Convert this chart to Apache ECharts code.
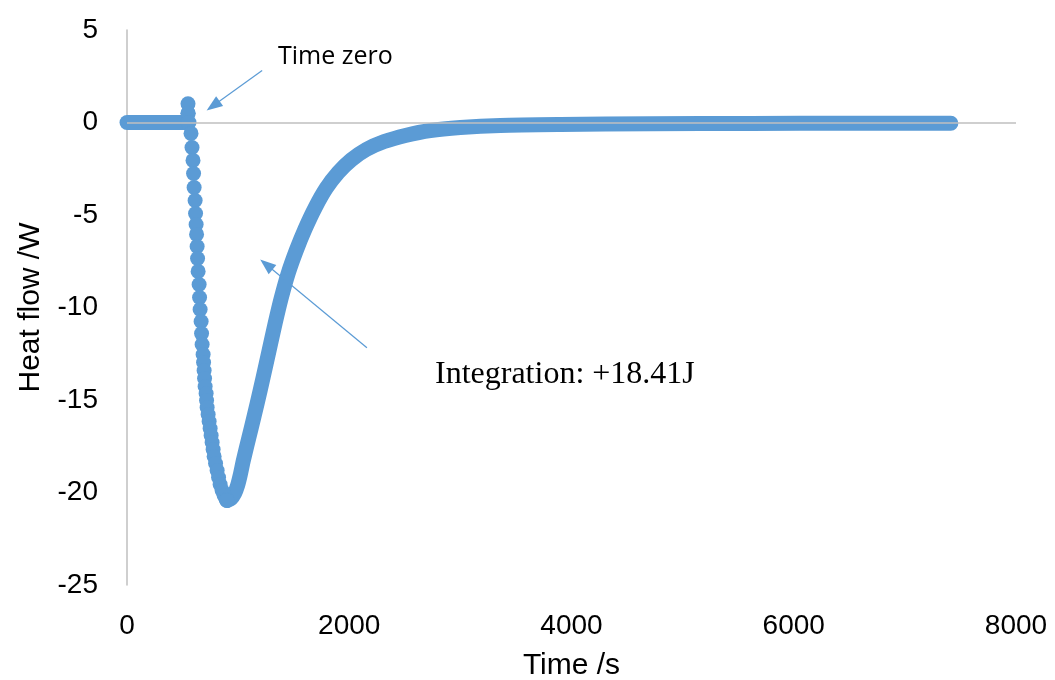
<!DOCTYPE html>
<html>
<head>
<meta charset="utf-8">
<script src="https://cdn.jsdelivr.net/npm/echarts@6/dist/echarts.min.js"></script>
<style>html,body{margin:0;padding:0;background:#fff}#c{width:1055px;height:680px}</style>
</head>
<body>
<div id="c"></div>
<script>
// ---- data ----
const xTicks = [0, 2000, 4000, 6000, 8000];
const yTicks = [5, 0, -5, -10, -15, -20, -25];

// flat baseline before time zero
const baseTime = [0, 100, 200, 300, 400, 500, 545];
const baseHeat = [0, 0, 0, 0, 0, 0, 0];

// spike at time zero and fast descent (individual points visible)
const descentTime = [545, 548, 549, 551, 558, 576, 585, 594, 599, 604, 613, 617, 622, 626, 631, 635, 640, 649, 653, 658, 667, 671, 676, 685, 689, 694, 698, 703, 712, 716, 721, 730, 739, 748, 757, 766, 775, 784, 797, 811, 824, 838, 856, 874, 892, 900];
const descentHeat = [0, 0.5, 1.01, 0.5, 0.0, -0.59, -1.35, -2.05, -2.76, -3.51, -4.22, -4.92, -5.51, -6.05, -6.70, -7.35, -8.05, -8.76, -9.46, -10.11, -10.76, -11.41, -12.0, -12.54, -12.97, -13.41, -13.84, -14.27, -14.65, -15.03, -15.41, -15.78, -16.16, -16.54, -16.92, -17.30, -17.68, -18.05, -18.43, -18.81, -19.19, -19.57, -19.89, -20.16, -20.38, -20.43];

// recovery back to baseline
const recoveryTime = [900, 937, 968, 995, 1018, 1045, 1077, 1117, 1171, 1225, 1279, 1333, 1387, 1450, 1523, 1604, 1694, 1793, 1901, 2018, 2153, 2315, 2505, 2730, 3000, 3360, 3901, 4712, 5613, 6514, 7414];
const recoveryHeat = [-20.43, -20.32, -20.05, -19.62, -19.08, -18.32, -17.51, -16.54, -15.19, -13.78, -12.32, -10.86, -9.51, -8.16, -6.92, -5.73, -4.59, -3.55, -2.70, -2.02, -1.46, -1.03, -0.70, -0.43, -0.27, -0.16, -0.11, -0.07, -0.05, -0.04, -0.04];

// annotation arrows (data coordinates: [time, heat])
const arrowTimeZero = [[1216, 2.81], [775, 0.90]];
const arrowIntegration = [[2159, -12.18], [1254, -7.68]];
const labelTimeZero = 'Time zero';
const labelIntegration = 'Integration: +18.41J';

const zip = (a, b) => a.map((v, i) => [v, b[i]]);
const BLUE = '#5b9bd5';
const SIZE = 15;

const chart = echarts.init(document.getElementById('c'), null, {renderer: 'canvas'});
chart.setOption({
  backgroundColor: '#ffffff',
  animation: false,
  grid: {left: 127, right: 39, top: 30, bottom: 95, containLabel: false, outerBoundsMode: 'none'},
  xAxis: {
    type: 'value', min: xTicks[0], max: xTicks[xTicks.length - 1], interval: 2000,
    name: 'Time /s', nameLocation: 'middle', nameGap: 66,
    nameTextStyle: {fontFamily: 'Liberation Sans', fontSize: 30, color: '#000'},
    axisLine: {show: false}, axisTick: {show: false}, splitLine: {show: false},
    axisLabel: {fontFamily: 'Liberation Sans', fontSize: 28, color: '#000', margin: 27,
                formatter: v => String(v)}
  },
  yAxis: {
    type: 'value', min: yTicks[yTicks.length - 1], max: yTicks[0], interval: 5,
    name: 'Heat flow /W', nameLocation: 'middle', nameGap: 81, nameRotate: 90,
    nameTextStyle: {fontFamily: 'Liberation Sans', fontSize: 30, color: '#000'},
    axisLine: {show: true, onZero: false, lineStyle: {color: '#bfbfbf', width: 1.5}},
    axisTick: {show: false}, splitLine: {show: false},
    axisLabel: {fontFamily: 'Liberation Sans', fontSize: 28, color: '#000', margin: 29,
                formatter: v => String(v)}
  },
  series: [
    {
      type: 'line', data: [], z: 1, silent: true,
      markLine: {
        silent: true, symbol: ['none', 'none'], label: {show: false},
        lineStyle: {color: '#bfbfbf', width: 1.5, type: 'solid'},
        data: [{yAxis: 0}]
      }
    },
    {
      type: 'line', data: zip(baseTime, baseHeat), z: 3, showSymbol: false,
      lineStyle: {color: BLUE, width: SIZE, cap: 'round', join: 'round'}
    },
    {
      type: 'scatter', data: zip(descentTime, descentHeat), z: 3,
      symbol: 'circle', symbolSize: SIZE, itemStyle: {color: BLUE, opacity: 1}
    },
    {
      type: 'line', data: zip(recoveryTime, recoveryHeat), z: 3, showSymbol: false,
      smooth: 0.25,
      lineStyle: {color: BLUE, width: SIZE, cap: 'round', join: 'round'}
    },
    {
      type: 'line', data: [], z: 5, silent: true,
      markLine: {
        silent: true, symbol: ['none', 'triangle'], symbolSize: [12, 16],
        label: {show: false},
        lineStyle: {color: BLUE, width: 1.2, type: 'solid'},
        data: [
          [{coord: arrowTimeZero[0]}, {coord: arrowTimeZero[1]}],
          [{coord: arrowIntegration[0]}, {coord: arrowIntegration[1]}]
        ]
      }
    }
  ],
  graphic: [
    {type: 'text', left: 278, top: 44,
     style: {text: labelTimeZero, font: '25px "Open Sans"', fill: '#000'}},
    {type: 'text', left: 435, top: 359,
     style: {text: labelIntegration, font: '32px "Liberation Serif"', fill: '#000'}}
  ]
});
</script>
</body>
</html>
